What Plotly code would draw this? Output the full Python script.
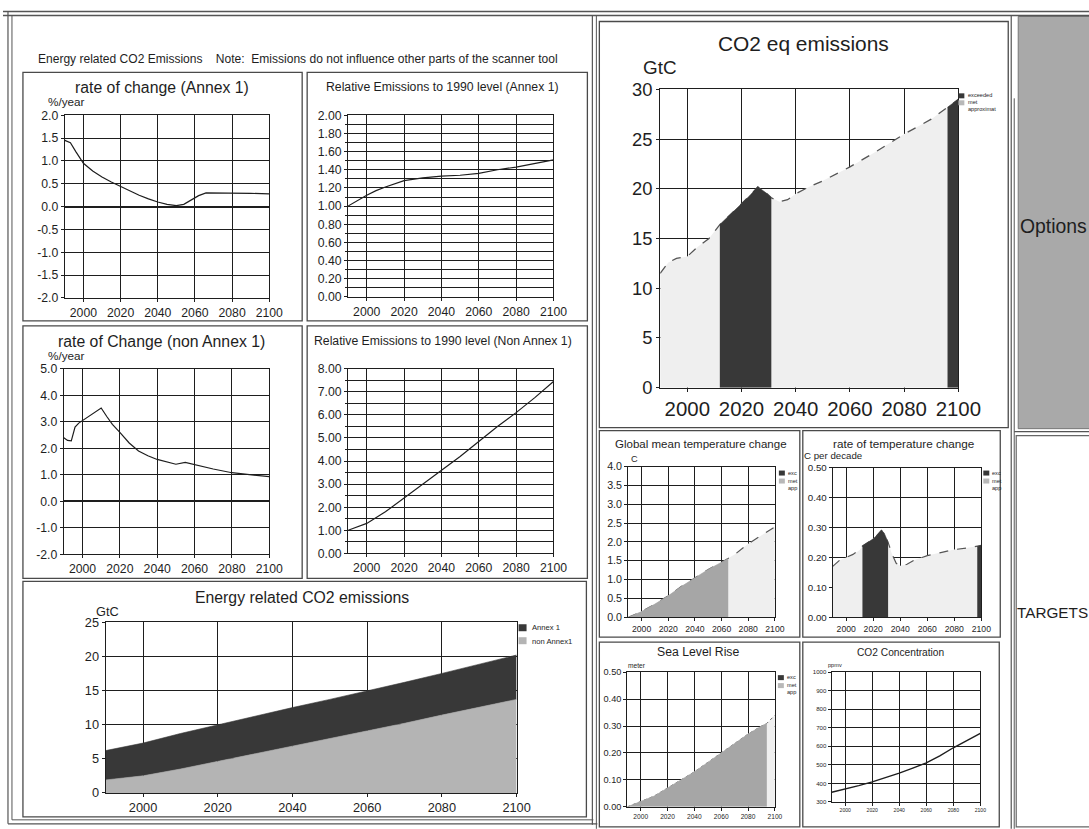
import plotly.graph_objects as go

# Target (reference) pixel coordinates are mapped to figure coordinates.
# The photographed page shows the figure slightly scaled and shifted;
# these constants compensate for that.
W, H = 1089, 829
SX, SY = 0.982, 0.977
OX, OY = -3.0, 9.5
FW, FH = 1112, 840
FS = 1 / 0.98
FONT = "Liberation Sans, Arial, sans-serif"
INK = "#1e1e1e"
DARK = "#383838"
MID = "#a6a6a6"
NONA = "#b4b4b4"
LIGHT = "#efefef"

YEAR_TICKS = [2000, 2020, 2040, 2060, 2080, 2100]
RATE_A1_TICKS = [-2.0, -1.5, -1.0, -0.5, 0.0, 0.5, 1.0, 1.5, 2.0]
RATE_NA_TICKS = [-2.0, -1.0, 0.0, 1.0, 2.0, 3.0, 4.0, 5.0]

# ---- rate of change (Annex 1), %/year
rate_a1_years = [1990, 1993, 1996, 2000, 2005, 2010, 2015, 2020, 2025, 2030, 2035, 2040,
                 2045, 2050, 2054, 2058, 2062, 2066, 2070, 2080, 2090, 2100]
rate_a1_vals = [1.45, 1.40, 1.20, 0.95, 0.78, 0.65, 0.54, 0.44, 0.34, 0.25, 0.17, 0.10,
                0.05, 0.02, 0.05, 0.14, 0.24, 0.30, 0.30, 0.30, 0.29, 0.28]
# ---- relative emissions to 1990 (Annex 1)
rel_a1_years = [1990, 1995, 2000, 2005, 2010, 2020, 2030, 2040, 2050, 2060, 2070, 2080, 2090, 2100]
rel_a1_vals = [1.00, 1.06, 1.12, 1.17, 1.21, 1.28, 1.31, 1.33, 1.34, 1.36, 1.40, 1.43, 1.47, 1.51]
# ---- rate of change (non Annex 1), %/year
rate_na_years = [1990, 1992, 1994, 1996, 1998, 2000, 2005, 2010, 2013, 2016, 2020, 2025, 2030,
                 2035, 2040, 2045, 2050, 2055, 2060, 2070, 2080, 2090, 2100]
rate_na_vals = [2.40, 2.30, 2.28, 2.80, 2.95, 3.05, 3.30, 3.52, 3.20, 2.90, 2.60, 2.20, 1.90,
                1.72, 1.58, 1.48, 1.40, 1.47, 1.38, 1.22, 1.08, 1.00, 0.93]
# ---- relative emissions to 1990 (non Annex 1)
rel_na_years = [1990, 2000, 2010, 2020, 2030, 2040, 2050, 2060, 2070, 2080, 2090, 2100]
rel_na_vals = [1.00, 1.30, 1.80, 2.40, 3.00, 3.60, 4.20, 4.85, 5.50, 6.10, 6.75, 7.45]
# ---- energy related CO2 emissions, GtC (stacked)
energy_years = [1990, 2000, 2010, 2020, 2030, 2040, 2050, 2060, 2070, 2080, 2090, 2100]
energy_non_annex1 = [1.9, 2.5, 3.5, 4.6, 5.7, 6.8, 7.9, 9.0, 10.2, 11.4, 12.5, 13.7]
energy_annex1 = [4.3, 4.8, 5.2, 5.4, 5.6, 5.7, 5.8, 5.9, 6.0, 6.1, 6.3, 6.5]
# ---- CO2 eq emissions, GtC
co2eq_years = [1990, 1993, 1996, 2000, 2004, 2008, 2012, 2016, 2020, 2023, 2026, 2029, 2031,
               2034, 2037, 2040, 2045, 2050, 2060, 2070, 2080, 2090, 2096, 2100]
co2eq_vals = [11.5, 12.6, 13.0, 13.2, 14.2, 15.0, 16.4, 17.5, 18.5, 19.3, 20.2, 19.6, 19.1,
              18.7, 18.9, 19.5, 20.2, 20.8, 22.2, 23.8, 25.5, 27.0, 28.2, 29.0]
co2eq_exceeded = [(2012, 2031), (2096, 2100)]
# ---- global mean temperature change, C
temp_years = [1990, 2000, 2010, 2020, 2030, 2040, 2050, 2060, 2065, 2070, 2080, 2090, 2100]
temp_vals = [0.00, 0.15, 0.35, 0.57, 0.82, 1.05, 1.27, 1.46, 1.56, 1.67, 1.95, 2.17, 2.40]
temp_met = [(1990, 2065)]
# ---- rate of temperature change, C per decade
rtemp_years = [1990, 1995, 2000, 2005, 2010, 2012, 2016, 2020, 2023, 2026, 2028, 2031, 2034,
               2037, 2040, 2045, 2050, 2060, 2070, 2080, 2090, 2097, 2100]
rtemp_vals = [0.17, 0.19, 0.20, 0.21, 0.225, 0.238, 0.25, 0.262, 0.275, 0.29, 0.282, 0.25, 0.21,
              0.18, 0.172, 0.177, 0.19, 0.206, 0.216, 0.226, 0.232, 0.236, 0.24]
rtemp_exceeded = [(2012, 2031), (2097, 2100)]
# ---- sea level rise, meter
sea_years = [1990, 2000, 2010, 2020, 2030, 2040, 2050, 2060, 2070, 2080, 2090, 2094, 2100]
sea_vals = [0.00, 0.02, 0.04, 0.07, 0.10, 0.13, 0.165, 0.20, 0.235, 0.27, 0.30, 0.31, 0.34]
sea_met = [(1990, 2094)]
# ---- CO2 concentration, ppmv
conc_years = [1990, 2000, 2010, 2020, 2030, 2040, 2050, 2060, 2070, 2080, 2090, 2100]
conc_vals = [352, 368, 388, 408, 430, 455, 482, 510, 548, 592, 630, 670]


def px(x):
    return ((x - OX) / SX) / FW


def py(y):
    return 1 - ((y - OY) / SY) / FH


def dx(a, b):
    return [px(a), px(b)]


def dy(top, bottom):
    return [py(bottom), py(top)]


fig = go.Figure()


def axes(i, xd, yd, yrange, ydtick, yfmt, yfs, xfs, yminor=None, zeroline=False, yticks=None):
    xn = "xaxis" if i == 1 else f"xaxis{i}"
    yn = "yaxis" if i == 1 else f"yaxis{i}"
    xa = "x" if i == 1 else f"x{i}"
    ya = "y" if i == 1 else f"y{i}"
    common = dict(showline=True, mirror=True, linecolor=INK, linewidth=1.2,
                  showgrid=True, gridcolor=INK, gridwidth=1,
                  ticks="outside", ticklen=3, tickcolor=INK, fixedrange=True)
    xdict = dict(common, domain=xd, anchor=ya, range=[1990, 2100], tickvals=YEAR_TICKS,
                 zeroline=False, tickfont=dict(family=FONT, size=xfs * FS, color=INK))
    ydict = dict(common, domain=yd, anchor=xa, range=yrange, zeroline=zeroline,
                 zerolinecolor=INK, zerolinewidth=2,
                 tickfont=dict(family=FONT, size=yfs * FS, color=INK))
    if yticks is not None:
        ydict["tickvals"] = yticks
        ydict["ticktext"] = [format(v, yfmt) for v in yticks]
    else:
        ydict.update(dtick=ydtick, tick0=yrange[0], tickformat=yfmt)
    if yminor is not None:
        ydict["minor"] = dict(dtick=yminor, showgrid=True, gridcolor=INK, gridwidth=1,
                              ticks="outside", ticklen=2, tickcolor=INK)
    fig.update_layout(**{xn: xdict, yn: ydict})
    return xa, ya


def line(xa, ya, xs, ys, color=INK, width=1.3, dash="solid"):
    fig.add_trace(go.Scatter(x=xs, y=ys, mode="lines", xaxis=xa, yaxis=ya,
                             line=dict(color=color, width=width, dash=dash),
                             showlegend=False, hoverinfo="skip"))


def area(xa, ya, xs, ys, fill, edge=None, width=0.6, dash="solid"):
    fig.add_trace(go.Scatter(x=xs, y=ys, mode="lines", xaxis=xa, yaxis=ya, fill="tozeroy",
                             fillcolor=fill, line=dict(color=edge or fill, width=width, dash=dash),
                             showlegend=False, hoverinfo="skip"))


def segment(xs, ys, a, b):
    sx = [x for x in xs if a <= x <= b]
    sy = [y for x, y in zip(xs, ys) if a <= x <= b]
    return sx, sy


# 1 rate of change annex 1
xa, ya = axes(1, dx(62, 267), dy(114, 297), [-2, 2], 0.5, ".1f", 12, 12, zeroline=True,
              yticks=RATE_A1_TICKS)
line(xa, ya, rate_a1_years, rate_a1_vals, width=1.2)
# 2 relative annex 1
xa, ya = axes(2, dx(346, 552), dy(114, 296), [0, 2], 0.2, ".2f", 12, 12, yminor=0.1)
line(xa, ya, rel_a1_years, rel_a1_vals, width=1.2)
# 3 rate non annex 1
xa, ya = axes(3, dx(61, 267), dy(368, 554), [-2, 5], 1, ".1f", 12, 12, zeroline=True,
              yticks=RATE_NA_TICKS)
line(xa, ya, rate_na_years, rate_na_vals, width=1.2)
# 4 relative non annex 1
xa, ya = axes(4, dx(346, 552), dy(368, 553), [0, 8], 1, ".2f", 12, 12, yminor=0.5)
line(xa, ya, rel_na_years, rel_na_vals, width=1.2)

# 5 energy related CO2 emissions (stacked)
xa, ya = axes(5, dx(103, 515), dy(622, 793), [0, 25], 5, "d", 12.5, 12.5)
fig.add_trace(go.Scatter(x=energy_years, y=energy_non_annex1, xaxis=xa, yaxis=ya,
                         stackgroup="energy", mode="lines", fillcolor=NONA,
                         line=dict(color="#a8a8a8", width=0.6), name="non Annex1",
                         showlegend=False, hoverinfo="skip"))
fig.add_trace(go.Scatter(x=energy_years, y=energy_annex1, xaxis=xa, yaxis=ya,
                         stackgroup="energy", mode="lines", fillcolor=DARK,
                         line=dict(color=DARK, width=0.6), name="Annex 1",
                         showlegend=False, hoverinfo="skip"))

# 6 CO2 eq emissions
xa, ya = axes(6, dx(659, 958), dy(88, 387), [0, 30], 5, "d", 18, 20)
area(xa, ya, co2eq_years, co2eq_vals, LIGHT, edge="#555555", width=1.3, dash="dash")
for a, b in co2eq_exceeded:
    sx, sy = segment(co2eq_years, co2eq_vals, a, b)
    area(xa, ya, sx, sy, DARK)

# 7 global mean temperature change
xa, ya = axes(7, dx(627, 774), dy(466, 617), [0, 4], 0.5, ".1f", 10.5, 8.5)
area(xa, ya, temp_years, temp_vals, LIGHT, edge="#555555", width=1.2, dash="dash")
for a, b in temp_met:
    sx, sy = segment(temp_years, temp_vals, a, b)
    area(xa, ya, sx, sy, MID)

# 8 rate of temperature change
xa, ya = axes(8, dx(832, 981), dy(467, 617), [0, 0.5], 0.1, ".2f", 9.5, 8.5)
area(xa, ya, rtemp_years, rtemp_vals, LIGHT, edge="#555555", width=1.2, dash="dash")
for a, b in rtemp_exceeded:
    sx, sy = segment(rtemp_years, rtemp_vals, a, b)
    area(xa, ya, sx, sy, DARK)

# 9 sea level rise
xa, ya = axes(9, dx(626, 774), dy(672, 807), [0, 0.5], 0.1, ".2f", 9, 6.5)
area(xa, ya, sea_years, sea_vals, LIGHT, edge="#666666", width=1, dash="dot")
for a, b in sea_met:
    sx, sy = segment(sea_years, sea_vals, a, b)
    area(xa, ya, sx, sy, MID)

# 10 CO2 concentration
xa, ya = axes(10, dx(831, 980), dy(672, 802), [300, 1000], 100, "d", 6, 5)
line(xa, ya, conc_years, conc_vals, width=1.4)

# ---------------- frames / boxes
shapes = []


def rect(x0, y0, x1, y1, color="#4a4a4a", width=1.3, fill=None, layer="above"):
    shapes.append(dict(type="rect", xref="paper", yref="paper",
                       x0=px(x0), x1=px(x1), y0=py(y1), y1=py(y0),
                       line=dict(color=color, width=width) if width else dict(width=0),
                       fillcolor=fill or "rgba(0,0,0,0)", layer=layer))


def seg(x0, y0, x1, y1, color="#555555", width=1.5):
    shapes.append(dict(type="line", xref="paper", yref="paper",
                       x0=px(x0), x1=px(x1), y0=py(y0), y1=py(y1),
                       line=dict(color=color, width=width)))


rect(1018, 15, 1100, 428, width=1, color="#777777", fill="#a9a9a9", layer="below")
rect(1016, 435, 1100, 827, width=1.2, color="#666666")

seg(0, 10, 1095, 10, width=1.4)
seg(0, 14, 1095, 14, width=1.4)
seg(5, 10, 5, 824, width=1.2)
seg(9, 14, 9, 820, width=1.0)
seg(5, 824, 596, 824, width=1.2)
seg(9, 820, 592, 820, width=1.0)
seg(591, 14, 591, 825, width=1.2)
seg(595, 14, 595, 829, width=1.0)
seg(1011, 14, 1011, 829, width=1.2)
seg(1014, 97, 1014, 829, width=1.0)
seg(1014, 431, 1095, 431, width=1.2)

rect(20, 71, 300, 320)
rect(305, 71, 586, 320)
rect(20, 325, 300, 578)
rect(305, 325, 586, 578)
rect(20, 581, 585, 817)
rect(598, 20, 1008, 427)
rect(598, 430, 799, 637)
rect(802, 430, 1000, 637)
rect(598, 642, 799, 827)
rect(802, 642, 999, 827)

rect(517, 624, 525, 631, width=0, fill=DARK)
rect(517, 637, 525, 644, width=0, fill=NONA)
rect(958, 92, 964, 97, width=0, fill=DARK)
rect(958, 99, 964, 104, width=0, fill="#b8b8b8")
rect(778, 470, 784, 475, width=0, fill=DARK)
rect(778, 478, 784, 483, width=0, fill="#b8b8b8")
rect(983, 470, 989, 475, width=0, fill=DARK)
rect(983, 478, 989, 483, width=0, fill="#b8b8b8")
rect(777, 675, 783, 680, width=0, fill=DARK)
rect(777, 683, 783, 688, width=0, fill="#b8b8b8")
fig.update_layout(shapes=shapes)


def ann(text, x, y, size, xanchor="center", color=INK):
    fig.add_annotation(x=px(x), y=py(y), xref="paper", yref="paper", text=text,
                       showarrow=False, xanchor=xanchor, yanchor="middle",
                       font=dict(family=FONT, size=size * FS, color=color))


NB = "\u00a0"
ann("Energy related CO2 Emissions" + NB * 4 + "Note:" + NB * 2 +
    "Emissions do not influence other parts of the scanner tool", 33, 58, 11.8, xanchor="left")
ann("rate of change (Annex 1)", 159, 86, 15.5)
ann("Relative Emissions to 1990 level (Annex 1)", 441, 86, 12)
ann("rate of Change (non Annex 1)", 159, 341, 15.5)
ann("Relative Emissions to 1990 level (Non Annex 1)", 441, 340, 12)
ann("Energy related CO2 emissions", 300, 597, 15.5)
ann("CO2 eq emissions", 803, 42, 20.5)
ann("Global mean temperature change", 700, 443, 11.3)
ann("rate of temperature change", 903, 443, 11.5)
ann("Sea Level Rise", 697, 652, 12)
ann("CO2 Concentration", 900, 652, 10)
ann("Options", 1018, 225, 19, xanchor="left")
ann("TARGETS", 1015, 612, 15, xanchor="left")

ann("%/year", 43, 100, 11.5, xanchor="left")
ann("%/year", 43, 355, 11.5, xanchor="left")
ann("GtC", 91, 611, 12.5, xanchor="left")
ann("GtC", 640, 66, 18.5, xanchor="left")
ann("C", 628, 458, 9, xanchor="left")
ann("C per decade", 801, 455, 9.5, xanchor="left")
ann("meter", 625, 665, 6.5, xanchor="left")
ann("ppmv", 825, 665, 5.5, xanchor="left")

ann("Annex 1", 528, 627, 7.5, xanchor="left")
ann("non Annex1", 528, 641, 7.5, xanchor="left")
ann("exceeded", 966, 94, 5.5, xanchor="left")
ann("met", 966, 101, 5.5, xanchor="left")
ann("approximat", 966, 108, 5.5, xanchor="left")
for lx in (785, 990):
    ann("exc", lx, 472, 5.5, xanchor="left")
    ann("met", lx, 480, 5.5, xanchor="left")
    ann("app", lx, 487, 5.5, xanchor="left")
ann("exc", 784, 677, 5.5, xanchor="left")
ann("met", 784, 685, 5.5, xanchor="left")
ann("app", 784, 692, 5.5, xanchor="left")

fig.update_layout(width=FW, height=FH, autosize=False,
                  margin=dict(l=0, r=0, t=0, b=0, pad=0),
                  paper_bgcolor="white", plot_bgcolor="white",
                  showlegend=False, font=dict(family=FONT, color=INK))

fig.write_html("out.html", config={"displayModeBar": False})
